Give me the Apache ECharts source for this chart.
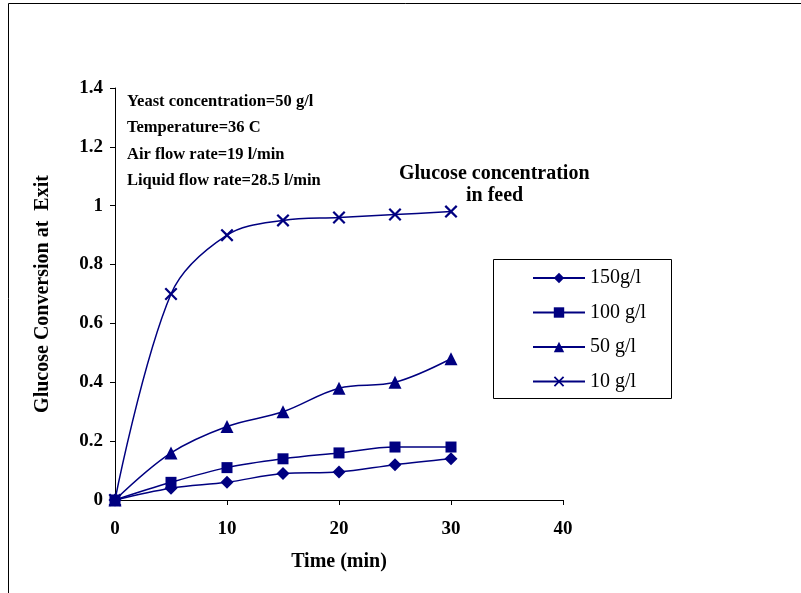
<!DOCTYPE html>
<html>
<head>
<meta charset="utf-8">
<script src="https://cdn.jsdelivr.net/npm/echarts@6/dist/echarts.min.js"></script>
<style>
html,body{margin:0;padding:0;background:#fff;}
#chartDiv{width:801px;height:593px;}
</style>
</head>
<body>
<div id="chartDiv"></div>
<script>
var timeArr = [0, 5, 10, 15, 20, 25, 30];
var g150Arr = [0, 0.04, 0.06, 0.09, 0.095, 0.12, 0.14];
var g100Arr = [0, 0.06, 0.11, 0.14, 0.16, 0.18, 0.18];
var g50Arr = [0, 0.16, 0.25, 0.30, 0.38, 0.40, 0.48];
var g10Arr = [0, 0.70, 0.90, 0.95, 0.96, 0.97, 0.98];
var seriesNames = ['150g/l', '100 g/l', '50 g/l', '10 g/l'];
var notesArr = ['Yeast concentration=50 g/l', 'Temperature=36 C', 'Air flow rate=19 l/min', 'Liquid flow rate=28.5 l/min'];

var navy = '#000080';
var fontName = '"Liberation Serif", "Times New Roman", serif';
var xMark = 'path://M0,1.2L1.2,0L5,3.8L8.8,0L10,1.2L6.2,5L10,8.8L8.8,10L5,6.2L1.2,10L0,8.8L3.8,5Z';
var symbolArr = ['diamond', 'rect', 'triangle', xMark];
var sizeArr = [13, 11, 13, 13];
var dataArr = [g150Arr, g100Arr, g50Arr, g10Arr];

function pairs(arr) {
	var out = [];
	for (var i = 0; i < arr.length; i++) {
		out.push([timeArr[i], arr[i]]);
	}
	return out;
}

var seriesArray = [];
for (var s = 0; s < dataArr.length; s++) {
	seriesArray.push({
		name: seriesNames[s],
		type: 'line',
		smooth: 0.35,
		data: pairs(dataArr[s]),
		symbol: symbolArr[s],
		symbolSize: sizeArr[s],
		showAllSymbol: true,
		itemStyle: {color: navy},
		lineStyle: {color: navy, width: 1.5},
		animation: false
	});
}

var noteGraphics = [];
for (var n = 0; n < notesArr.length; n++) {
	noteGraphics.push({
		type: 'text',
		left: 127,
		top: 93 + n * 26.5,
		style: {text: notesArr[n], font: 'bold 16.5px ' + fontName, fill: '#000'}
	});
}

var myChart = echarts.init(document.getElementById('chartDiv'));
var option = {
	animation: false,
	grid: {left: 115, top: 88, width: 448, height: 412},
	xAxis: {
		type: 'value',
		min: 0, max: 40, interval: 10,
		name: 'Time (min)',
		nameLocation: 'middle',
		nameGap: 52,
		nameTextStyle: {fontFamily: fontName, fontWeight: 'bold', fontSize: 20, color: '#000'},
		axisLine: {lineStyle: {color: '#000', width: 1}},
		axisTick: {show: true, length: 5, lineStyle: {color: '#000'}},
		axisLabel: {fontFamily: fontName, fontWeight: 'bold', fontSize: 19, color: '#000', margin: 20},
		splitLine: {show: false}
	},
	yAxis: {
		type: 'value',
		min: 0, max: 1.4, interval: 0.2,
		name: 'Glucose Conversion at  Exit',
		nameLocation: 'middle',
		nameGap: 62,
		nameTextStyle: {fontFamily: fontName, fontWeight: 'bold', fontSize: 20, color: '#000'},
		axisLine: {show: true, lineStyle: {color: '#000', width: 1}},
		axisTick: {show: true, length: 5, lineStyle: {color: '#000'}},
		axisLabel: {fontFamily: fontName, fontWeight: 'bold', fontSize: 19, color: '#000', margin: 12,
			formatter: function(v) { return Math.round(v * 10) / 10 + ''; }},
		splitLine: {show: false}
	},
	legend: {
		orient: 'vertical',
		left: 527,
		top: 263,
		itemWidth: 52,
		itemHeight: 13,
		itemGap: 14.5,
		data: seriesNames,
		textStyle: {fontFamily: fontName, fontSize: 20, color: '#000'}
	},
	graphic: [
		{type: 'rect', shape: {x: 8.5, y: 3.5, width: 900, height: 700}, style: {fill: 'none', stroke: '#000', lineWidth: 1}, silent: true},
		{type: 'rect', shape: {x: 493.5, y: 259.5, width: 178, height: 139}, style: {fill: 'none', stroke: '#000', lineWidth: 1}, silent: true},
		{type: 'text', left: 399, top: 164, style: {text: 'Glucose concentration', font: 'bold 20px ' + fontName, fill: '#000'}},
		{type: 'text', left: 466, top: 186, style: {text: 'in feed', font: 'bold 20px ' + fontName, fill: '#000'}}
	].concat(noteGraphics),
	series: seriesArray
};
myChart.setOption(option);
</script>
</body>
</html>
